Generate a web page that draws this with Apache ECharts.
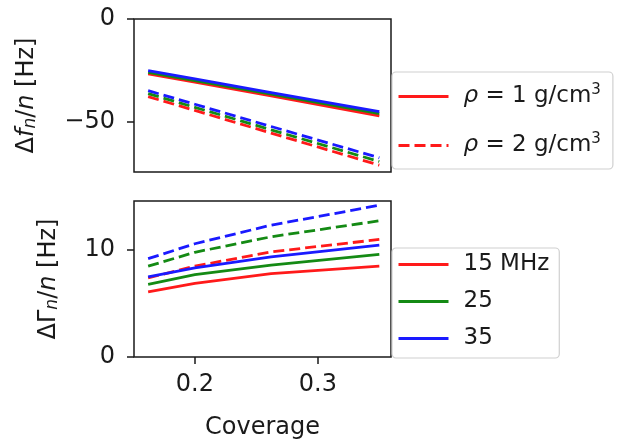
<!DOCTYPE html>
<html>
<head>
<meta charset="utf-8">
<script src="https://cdn.jsdelivr.net/npm/echarts@6/dist/echarts.min.js"></script>
<style>
  html, body { margin: 0; padding: 0; background: #fff; }
  #chart { width: 619px; height: 441px; }
</style>
</head>
<body>
<div id="chart"></div>
<script>
// Surface coverage values where the model was evaluated
const coverage = [0.162, 0.2, 0.262, 0.35];

// Overtone frequencies (MHz) and their line colours
const frequencies = ['15 MHz', '25', '35'];
const freqColors = ['#ff1a1a', '#148a14', '#1a1aff'];

// Δf_n/n [Hz], density 1 g/cm³
const dfRho1_15 = [-26.7, -30.7, -37.3, -47.0];
const dfRho1_25 = [-25.9, -29.9, -36.5, -46.0];
const dfRho1_35 = [-25.1, -29.1, -35.7, -45.0];
// Δf_n/n [Hz], density 2 g/cm³
const dfRho2_15 = [-37.7, -44.4, -55.4, -71.0];
const dfRho2_25 = [-36.2, -42.9, -53.8, -69.2];
const dfRho2_35 = [-34.8, -41.4, -52.2, -67.4];

// ΔΓ_n/n [Hz], density 1 g/cm³
const dgRho1_15 = [6.1, 6.9, 7.8, 8.5];
const dgRho1_25 = [6.8, 7.7, 8.6, 9.6];
const dgRho1_35 = [7.5, 8.35, 9.37, 10.47];
// ΔΓ_n/n [Hz], density 2 g/cm³
const dgRho2_15 = [7.4, 8.5, 9.84, 11.0];
const dgRho2_25 = [8.5, 9.8, 11.25, 12.75];
const dgRho2_35 = [9.2, 10.6, 12.34, 14.2];

// Tick labels
const xTicks = [0.2, 0.3];
const dfTicks = [-50, 0];
const dgTicks = [0, 10];

const densityLabels = ['\u03c1 = 1 g/cm\u00b3', '\u03c1 = 2 g/cm\u00b3'];

const dfSets = [[dfRho1_15, dfRho2_15], [dfRho1_25, dfRho2_25], [dfRho1_35, dfRho2_35]];
const dgSets = [[dgRho1_15, dgRho2_15], [dgRho1_25, dgRho2_25], [dgRho1_35, dgRho2_35]];

const FONT = 'DejaVu Sans';
const TXT = '#1a1a1a';
const LW = 2.8;
const DASH = [11, 5];

const pairs = arr => coverage.map((c, i) => [c, arr[i]]);

const series = [];
// per frequency: solid (1 g/cm³) then dashed (2 g/cm³)
[dfSets, dgSets].forEach((sets, g) => {
  sets.forEach((pair, f) => {
    pair.forEach((vals, d) => {
      series.push({
        type: 'line',
        name: 'g' + g + 'f' + f + 'd' + d,
        xAxisIndex: g, yAxisIndex: g,
        data: pairs(vals),
        symbol: 'none',
        silent: true,
        lineStyle: { color: freqColors[f], width: LW, type: d === 0 ? 'solid' : DASH, cap: 'butt' },
        itemStyle: { color: freqColors[f] }
      });
    });
  });
});

// legend-only entries
densityLabels.forEach((lab, d) => {
  series.push({
    type: 'line', name: lab, xAxisIndex: 0, yAxisIndex: 0, data: [], symbol: 'none',
    lineStyle: { color: freqColors[0], width: LW, type: d === 0 ? 'solid' : DASH },
    itemStyle: { color: freqColors[0] }
  });
});
frequencies.forEach((lab, f) => {
  series.push({
    type: 'line', name: lab, xAxisIndex: 1, yAxisIndex: 1, data: [], symbol: 'none',
    lineStyle: { color: freqColors[f], width: LW, type: 'solid' },
    itemStyle: { color: freqColors[f] }
  });
});

const tickLabel = { fontFamily: FONT, fontSize: 24, color: TXT };
const minus = v => String(v).replace('-', '\u2212');

const xBase = {
  type: 'value', min: 0.1505, max: 0.3595,
  axisLine: { show: false }, splitLine: { show: false }
};

const nameRich = {
  i: { fontFamily: FONT, fontSize: 24, fontStyle: 'italic', color: TXT },
  sub: { fontFamily: FONT, fontSize: 17, fontStyle: 'italic', color: TXT, verticalAlign: 'bottom' }
};

const legendBase = {
  orient: 'vertical', selectedMode: false,
  backgroundColor: '#fff', borderColor: '#d0d0d0', borderWidth: 1.2, borderRadius: 4,
  itemWidth: 50, itemHeight: 14,
  itemStyle: { opacity: 0 },
  lineStyle: { width: 3 },
  textStyle: {
    fontFamily: FONT, fontSize: 23, color: TXT, padding: [0, 0, 0, 10], lineHeight: 27,
    rich: {
      i: { fontFamily: FONT, fontSize: 23, fontStyle: 'italic', color: TXT, lineHeight: 27 },
      t: { fontFamily: FONT, fontSize: 23, color: TXT, lineHeight: 27 },
      sup: { fontFamily: FONT, fontSize: 15, color: TXT, verticalAlign: 'top', lineHeight: 27 }
    }
  },
  z: 10
};

const option = {
  backgroundColor: '#fff',
  animation: false,
  grid: [
    { left: 134, top: 19, width: 257, height: 153, show: true, borderColor: TXT, borderWidth: 1.5, backgroundColor: 'transparent' },
    { left: 134, top: 201, width: 257, height: 156, show: true, borderColor: TXT, borderWidth: 1.5, backgroundColor: 'transparent' }
  ],
  xAxis: [
    Object.assign({}, xBase, { gridIndex: 0, axisTick: { show: false }, axisLabel: { show: false } }),
    Object.assign({}, xBase, {
      gridIndex: 1,
      axisTick: { show: true, length: 7, lineStyle: { color: TXT, width: 1.5 }, customValues: xTicks },
      axisLabel: Object.assign({ margin: 16, customValues: xTicks, formatter: v => v.toFixed(1) }, tickLabel),
      name: 'Coverage', nameLocation: 'middle', nameGap: 59,
      nameTextStyle: { fontFamily: FONT, fontSize: 24, color: TXT }
    })
  ],
  yAxis: [
    {
      type: 'value', gridIndex: 0, min: -74.3, max: 0,
      axisLine: { show: false }, splitLine: { show: false },
      axisTick: { show: true, length: 7, lineStyle: { color: TXT, width: 1.5 }, customValues: dfTicks },
      axisLabel: Object.assign({ margin: 19, customValues: dfTicks, formatter: minus }, tickLabel),
      name: '\u0394{i|f}{sub|n}/{i|n} [Hz]', nameLocation: 'middle', nameGap: 95, nameRotate: 90,
      nameTextStyle: { fontFamily: FONT, fontSize: 24, color: TXT, rich: nameRich }
    },
    {
      type: 'value', gridIndex: 1, min: 0, max: 14.6,
      axisLine: { show: false }, splitLine: { show: false },
      axisTick: { show: true, length: 7, lineStyle: { color: TXT, width: 1.5 }, customValues: dgTicks },
      axisLabel: Object.assign({ margin: 19, customValues: dgTicks }, tickLabel),
      name: '\u0394\u0393{sub|n}/{i|n} [Hz]', nameLocation: 'middle', nameGap: 73, nameRotate: 90,
      nameTextStyle: { fontFamily: FONT, fontSize: 24, color: TXT, rich: nameRich }
    }
  ],
  legend: [
    Object.assign({}, legendBase, {
      left: 392, top: 72, padding: [11, 12, 10, 5], itemGap: 22,
      data: densityLabels,
      formatter: name => name === densityLabels[0]
        ? '{i|\u03c1}{t| = 1 g/cm}{sup|3}'
        : '{i|\u03c1}{t| = 2 g/cm}{sup|3}'
    }),
    Object.assign({}, legendBase, {
      left: 392, top: 248, padding: [3, 10, 6, 5], itemGap: 10,
      data: frequencies
    })
  ],
  series: series
};

const chart = echarts.init(document.getElementById('chart'), null, { renderer: 'canvas' });
chart.setOption(option);
</script>
</body>
</html>
